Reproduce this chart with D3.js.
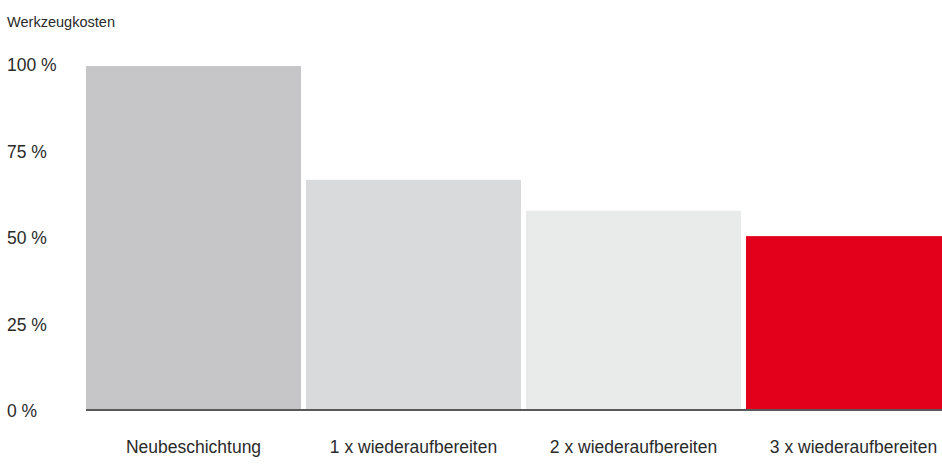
<!DOCTYPE html>
<html>
<head>
<meta charset="utf-8">
<script src="https://cdn.jsdelivr.net/npm/d3@7"></script>
<style>
  html, body { margin: 0; padding: 0; background: #fff; }
  svg { display: block; font-family: "Liberation Sans", Arial, Helvetica, sans-serif; }
</style>
</head>
<body>
<script>
// Werkzeugkosten comparison
const categories = ['Neubeschichtung', '1 x wiederaufbereiten', '2 x wiederaufbereiten', '3 x wiederaufbereiten']
const values = [100, 66.8, 57.8, 50.4]
const barColors = ['#c6c6c8', '#d9dadb', '#e9eaea', '#e2001a']
const yTicks = [0, 25, 50, 75, 100]
const title = 'Werkzeugkosten'

const width = 942
const height = 474

const svg = d3.select('body').append('svg')
  .attr('width', width)
  .attr('height', height)

const x = d3.scaleBand()
  .domain(categories)
  .range([86, 961])
  .paddingInner(5 / 220)
  .paddingOuter(0)

const y = d3.scaleLinear()
  .domain([0, 100])
  .range([409, 66])

// Title
svg.append('text')
  .attr('x', 7).attr('y', 27)
  .attr('font-size', '15px')
  .attr('fill', '#2a2a2a')
  .attr('textLength', 108)
  .attr('lengthAdjust', 'spacingAndGlyphs')
  .text(title)

// Y labels (no axis line)
svg.append('g').selectAll('text')
  .data(yTicks)
  .join('text')
  .attr('x', 7)
  .attr('y', d => y(d) + 5 + (100 - d) * 0.03)
  .attr('font-size', '17.5px')
  .attr('fill', '#2a2a2a')
  .text(d => `${d} %`)

// Bars
svg.append('g').selectAll('rect')
  .data(values)
  .join('rect')
  .attr('x', (d, i) => x(categories[i]))
  .attr('y', d => y(d))
  .attr('width', x.bandwidth())
  .attr('height', d => y(0) - y(d))
  .attr('fill', (d, i) => barColors[i])

// Baseline
svg.append('line')
  .attr('x1', 86).attr('x2', width)
  .attr('y1', y(0) + 1).attr('y2', y(0) + 1)
  .attr('stroke', '#222').attr('stroke-width', 1.5)

// Category labels
svg.append('g').selectAll('text')
  .data(categories)
  .join('text')
  .attr('x', d => x(d) + x.bandwidth() / 2)
  .attr('y', 453)
  .attr('text-anchor', 'middle')
  .attr('font-size', '17.5px')
  .attr('fill', '#2a2a2a')
  .text(d => d)
</script>
</body>
</html>
